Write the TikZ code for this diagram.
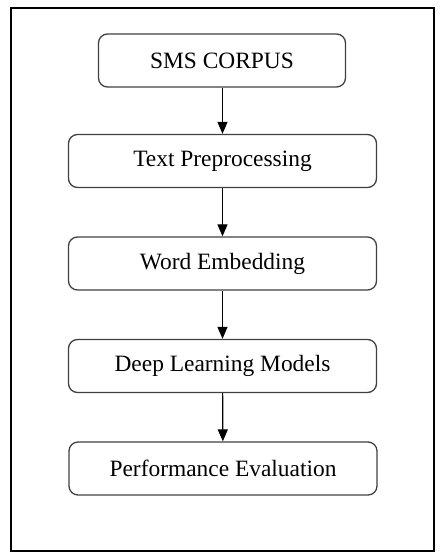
\documentclass[tikz,border=0pt]{standalone}
\usepackage{fontspec}
\setmainfont{Liberation Serif}
\usetikzlibrary{arrows.meta}
\begin{document}
\begin{tikzpicture}[x=1bp,y=-1bp,
  stage/.style={draw=black!75, line width=1.3bp, rounded corners=9bp,
    minimum width=308bp, minimum height=53bp, inner sep=0pt,
    font=\fontsize{23.5}{27}\selectfont},
  flow/.style={-{Triangle[length=12bp,width=10bp]}, line width=1.2bp}]
\useasboundingbox (0,0) rectangle (443,559);
% outer frame
\draw[line width=1.4bp] (11,8) rectangle (434,551);
% pipeline stages
\node[stage, minimum width=247bp] (corpus) at (222,60.5) {SMS CORPUS};
\node[stage] (prep) at (222.5,161) {Text Preprocessing};
\node[stage] (embed) at (222.5,263.5) {Word Embedding};
\node[stage] (models) at (222.5,366) {Deep Learning Models};
\node[stage] (eval) at (223,468.5) {Performance Evaluation};
% connectors
\draw[flow] (corpus.south -| prep.center) -- (prep.north);
\draw[flow] (prep) -- (embed);
\draw[flow] (embed) -- (models);
\draw[flow] (models) -- (eval);
\end{tikzpicture}
\end{document}
